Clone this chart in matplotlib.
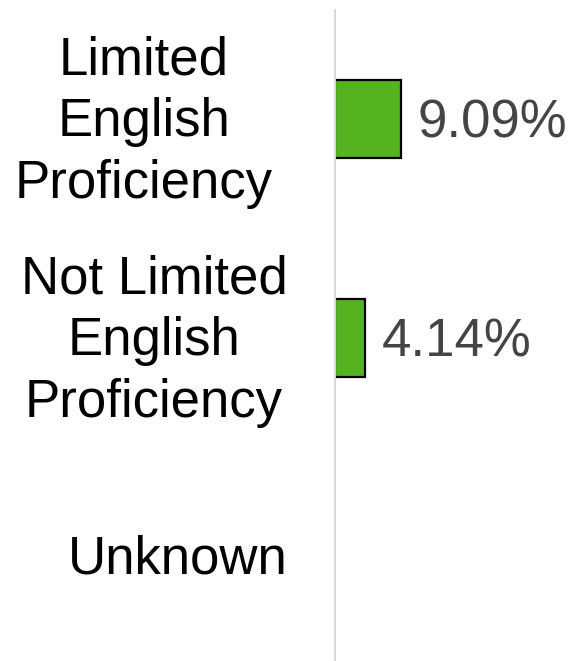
import matplotlib
matplotlib.use("Agg")
from matplotlib import pyplot as plt
from matplotlib.transforms import blended_transform_factory, ScaledTranslation

categories = ["Limited\nEnglish\nProficiency",
              "Not Limited\nEnglish\nProficiency",
              "Unknown"]
values = [9.09, 4.14, None]
value_labels = ["9.09%", "4.14%", ""]

# horizontal centre of each category label, in pixels
label_x = [144, 154, 178]

plt.rcParams["font.family"] = ["Liberation Sans", "DejaVu Sans"]

fig = plt.figure(figsize=(5.71, 6.61), dpi=100)
W, H = 571, 661
ax = fig.add_axes([335 / W, 0, 1 - 335 / W, (661 - 9.5) / H])

ypos = list(range(len(categories)))
for y, v, lab in zip(ypos, values, value_labels):
    if v is None:
        continue
    ax.barh(y, v, height=0.356, color="#56b320", edgecolor="black",
            linewidth=1.6)
    ax.annotate(lab, (v, y), xytext=(12, -3.5), textcoords="offset points",
                va="center", ha="left", fontsize=38, color="#444444")

ax.set_xlim(0, 32.5)
ax.set_ylim(2.475, -0.5)
ax.set_xticks([])
ax.set_yticks([])
for s in ["top", "right", "bottom"]:
    ax.spines[s].set_visible(False)
ax.spines["left"].set_color("#d9d9d9")
ax.spines["left"].set_linewidth(1.5)

# category labels sit to the left of the axis line
trans = blended_transform_factory(fig.transFigure, ax.transData) + \
    ScaledTranslation(0, -0.03, fig.dpi_scale_trans)
for y, cat, lx in zip(ypos, categories, label_x):
    ax.text(lx / W, y, cat, transform=trans,
            ha="center", va="center", multialignment="center",
            fontsize=38, color="black", linespacing=1.3)

fig.savefig("out.png", dpi=100)
